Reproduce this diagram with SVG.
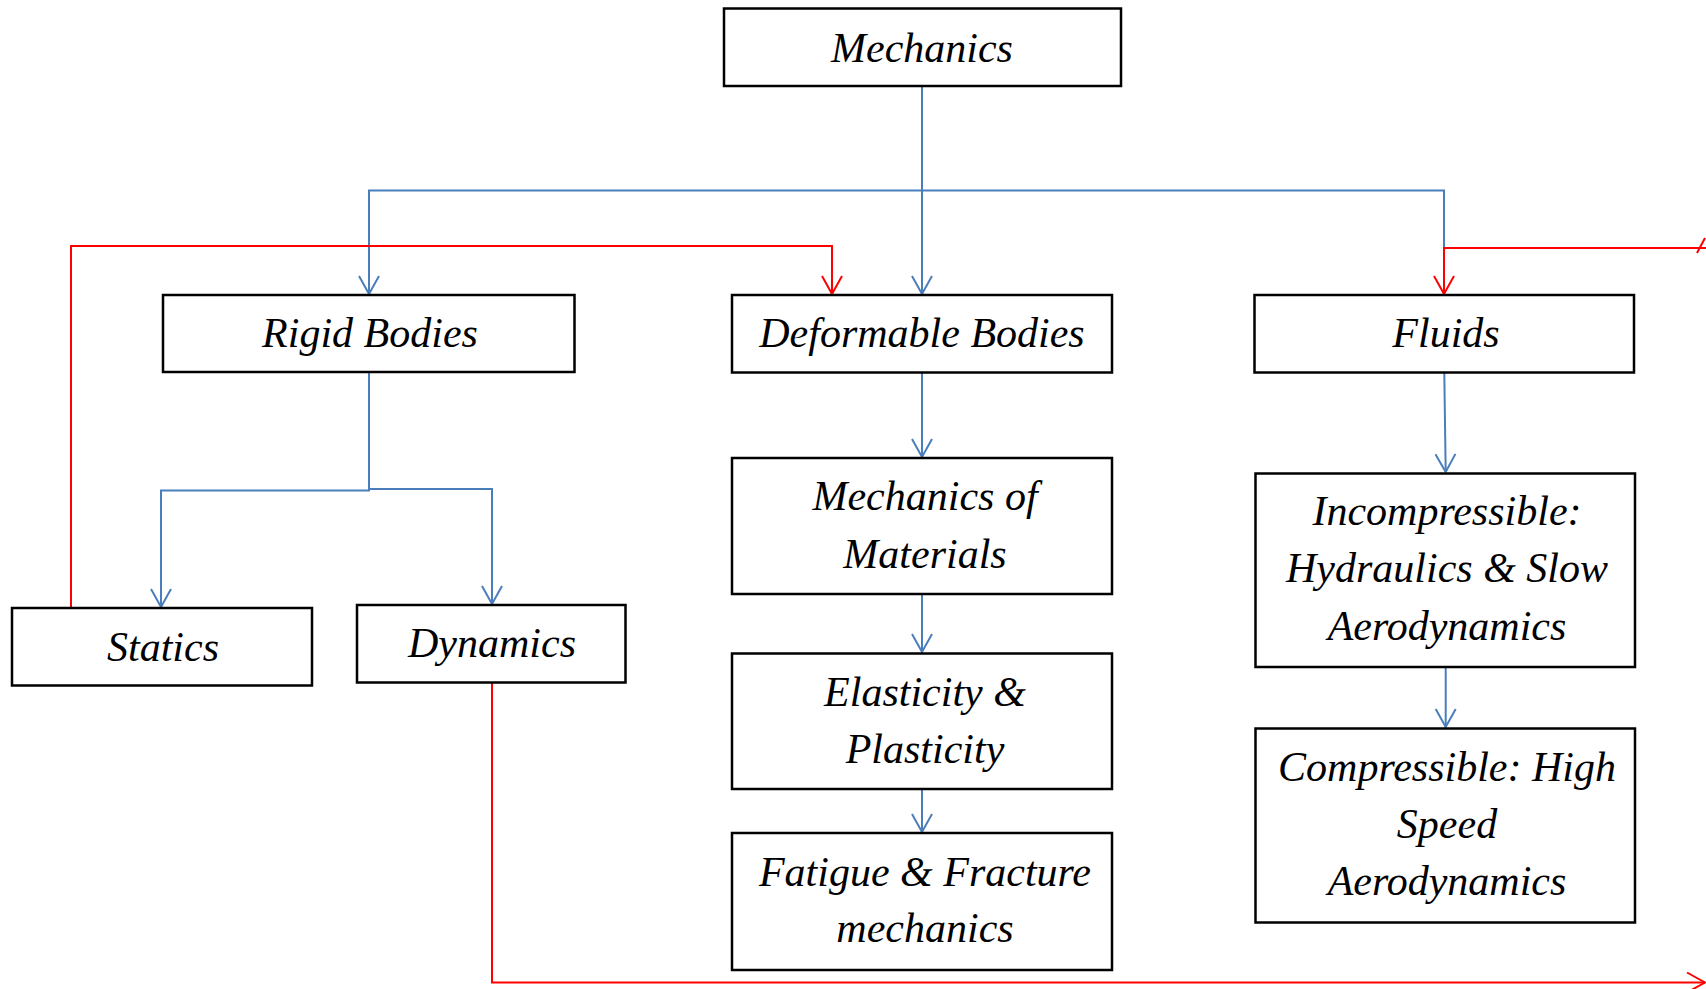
<svg xmlns="http://www.w3.org/2000/svg" width="1706" height="989" viewBox="0 0 1706 989">
<style>
.box{fill:#fff;stroke:#000;stroke-width:2.5}
.t{font-family:"Liberation Serif","DejaVu Serif",serif;font-style:italic;font-size:42px;fill:#000;text-anchor:middle}
.b{fill:none;stroke:#4A7EBB;stroke-width:2}
.r{fill:none;stroke:#FF0000;stroke-width:2}
</style>
<defs>
<marker id="ab" markerUnits="userSpaceOnUse" markerWidth="24" markerHeight="24" viewBox="-20 -12 22 24" refX="0" refY="0" orient="auto" overflow="visible">
<path d="M-18,-10 L0,0 L-18,10" fill="none" stroke="#4A7EBB" stroke-width="2"/>
</marker>
<marker id="ar" markerUnits="userSpaceOnUse" markerWidth="24" markerHeight="24" viewBox="-20 -12 22 24" refX="0" refY="0" orient="auto" overflow="visible">
<path d="M-18,-10 L0,0 L-18,10" fill="none" stroke="#FF0000" stroke-width="2"/>
</marker>
</defs>
<g id="connectors">
<path class="b" d="M922,86 V294" marker-end="url(#ab)"/>
<path class="b" d="M922,190.5 H369 V294" marker-end="url(#ab)"/>
<path class="b" d="M922,190.5 H1444 V248"/>
<path class="b" d="M369,372 V490.5 H161 V607" marker-end="url(#ab)"/>
<path class="b" d="M369,489 H492 V604" marker-end="url(#ab)"/>
<path class="b" d="M922,373 V457" marker-end="url(#ab)"/>
<path class="b" d="M922,594 V652" marker-end="url(#ab)"/>
<path class="b" d="M922,789 V832" marker-end="url(#ab)"/>
<path class="b" d="M1444.3,373 L1445.7,472" marker-end="url(#ab)"/>
<path class="b" d="M1445.7,667 V727" marker-end="url(#ab)"/>
<path class="r" d="M71,608 V246 H832 V294" marker-end="url(#ar)"/>
<path class="r" d="M1706,248 H1444 V294" marker-end="url(#ar)"/>
<path class="r" d="M1697,253 L1705,238"/>
<path class="r" d="M492,682 V982.5 H1705" marker-end="url(#ar)"/>
</g>
<g id="mechanics"><rect class="box" x="724" y="8.5" width="397" height="77.5"/><text class="t" x="922" y="62">Mechanics</text></g>
<g id="rigid"><rect class="box" x="163" y="295" width="411.5" height="77"/><text class="t" x="370" y="347">Rigid Bodies</text></g>
<g id="deformable"><rect class="box" x="732" y="295" width="380" height="77.5"/><text class="t" x="922" y="347">Deformable Bodies</text></g>
<g id="fluids"><rect class="box" x="1254.5" y="295" width="379.5" height="77.5"/><text class="t" x="1446" y="347">Fluids</text></g>
<g id="statics"><rect class="box" x="12" y="608" width="300" height="77.5"/><text class="t" x="163" y="661">Statics</text></g>
<g id="dynamics"><rect class="box" x="357" y="605" width="268.5" height="77.5"/><text class="t" x="492" y="657">Dynamics</text></g>
<g id="mom"><rect class="box" x="732" y="458" width="380" height="136"/><text class="t" x="925" y="510">Mechanics of</text><text class="t" x="925" y="568">Materials</text></g>
<g id="elast"><rect class="box" x="732" y="653.5" width="380" height="135.5"/><text class="t" x="925" y="706">Elasticity &amp;</text><text class="t" x="925" y="763">Plasticity</text></g>
<g id="fatigue"><rect class="box" x="732" y="833" width="380" height="137"/><text class="t" x="925" y="886">Fatigue &amp; Fracture</text><text class="t" x="925" y="942">mechanics</text></g>
<g id="incomp"><rect class="box" x="1255.5" y="473.5" width="379.5" height="193.5"/><text class="t" x="1447" y="525">Incompressible:</text><text class="t" x="1447" y="582">Hydraulics &amp; Slow</text><text class="t" x="1447" y="640">Aerodynamics</text></g>
<g id="comp"><rect class="box" x="1255.5" y="728.5" width="379.5" height="194"/><text class="t" x="1447" y="781">Compressible: High</text><text class="t" x="1447" y="838">Speed</text><text class="t" x="1447" y="895">Aerodynamics</text></g>
</svg>
